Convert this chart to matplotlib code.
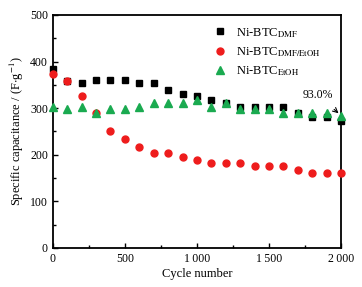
import numpy as np
import matplotlib
matplotlib.use("Agg")
import matplotlib.pyplot as plt
from matplotlib.ticker import MultipleLocator, FuncFormatter

plt.rcParams['font.family'] = ['Liberation Serif', 'DejaVu Serif']
plt.rcParams['mathtext.fontset'] = 'stix'

cycles = np.arange(0, 2001, 100)
cap_dmf = [385, 359, 353, 360, 360, 360, 353, 353, 338, 330, 325, 318, 310, 303, 303, 303, 303, 289, 280, 280, 273]
cap_dmf_etoh = [373, 359, 325, 289, 252, 233, 217, 203, 203, 196, 189, 182, 182, 182, 176, 176, 176, 168, 161, 161, 161]
cap_etoh = [303, 298, 303, 289, 298, 298, 303, 310, 310, 310, 318, 303, 310, 298, 298, 298, 289, 289, 289, 289, 283]

fig = plt.figure(figsize=(3.62, 2.87), dpi=100)
ax = fig.add_axes([0.146, 0.136, 0.796, 0.812])

ax.plot(cycles, cap_dmf, 's', color='black', ms=4.2, label=r'Ni-BTC$_{\mathrm{DMF}}$', clip_on=False, zorder=3)
ax.plot(cycles, cap_dmf_etoh, 'o', color='#ee1c1c', ms=5, label=r'Ni-BTC$_{\mathrm{DMF/EtOH}}$', clip_on=False, zorder=3)
ax.plot(cycles, cap_etoh, '^', color='#1aaa50', ms=5.2, label=r'Ni-BTC$_{\mathrm{EtOH}}$', clip_on=False, zorder=4)

ax.set_xlim(0, 2000)
ax.set_ylim(0, 500)
ax.xaxis.set_major_locator(MultipleLocator(500))
ax.xaxis.set_minor_locator(MultipleLocator(250))
ax.yaxis.set_major_locator(MultipleLocator(100))
ax.yaxis.set_minor_locator(MultipleLocator(50))
ax.xaxis.set_major_formatter(FuncFormatter(lambda v, p: f"{int(v):,}".replace(",", "\u2009")))
ax.tick_params(which='both', direction='in', labelsize=8.5)
ax.tick_params(which='major', length=3.5, width=1)
ax.tick_params(which='minor', length=2, width=1)
ax.tick_params(top=False, right=False)
for s in ax.spines.values():
    s.set_linewidth(1.3)

ax.set_xlabel('Cycle number', fontsize=9, labelpad=2)
ax.set_ylabel(r'Specific capacitance / (F$\cdot$g$^{-1}$)', fontsize=9, labelpad=3)

ax.annotate('93.0%', xy=(1990, 287), xytext=(1840, 328), fontsize=8.5,
            ha='center', va='center',
            arrowprops=dict(arrowstyle='->', color='black', lw=0.8, shrinkA=6, shrinkB=1))

ax.legend(loc='upper left', frameon=False, fontsize=9, handletextpad=0.3,
          labelspacing=0.45, borderaxespad=0, bbox_to_anchor=(0.52, 0.975))

fig.savefig('out.png', dpi=100)
